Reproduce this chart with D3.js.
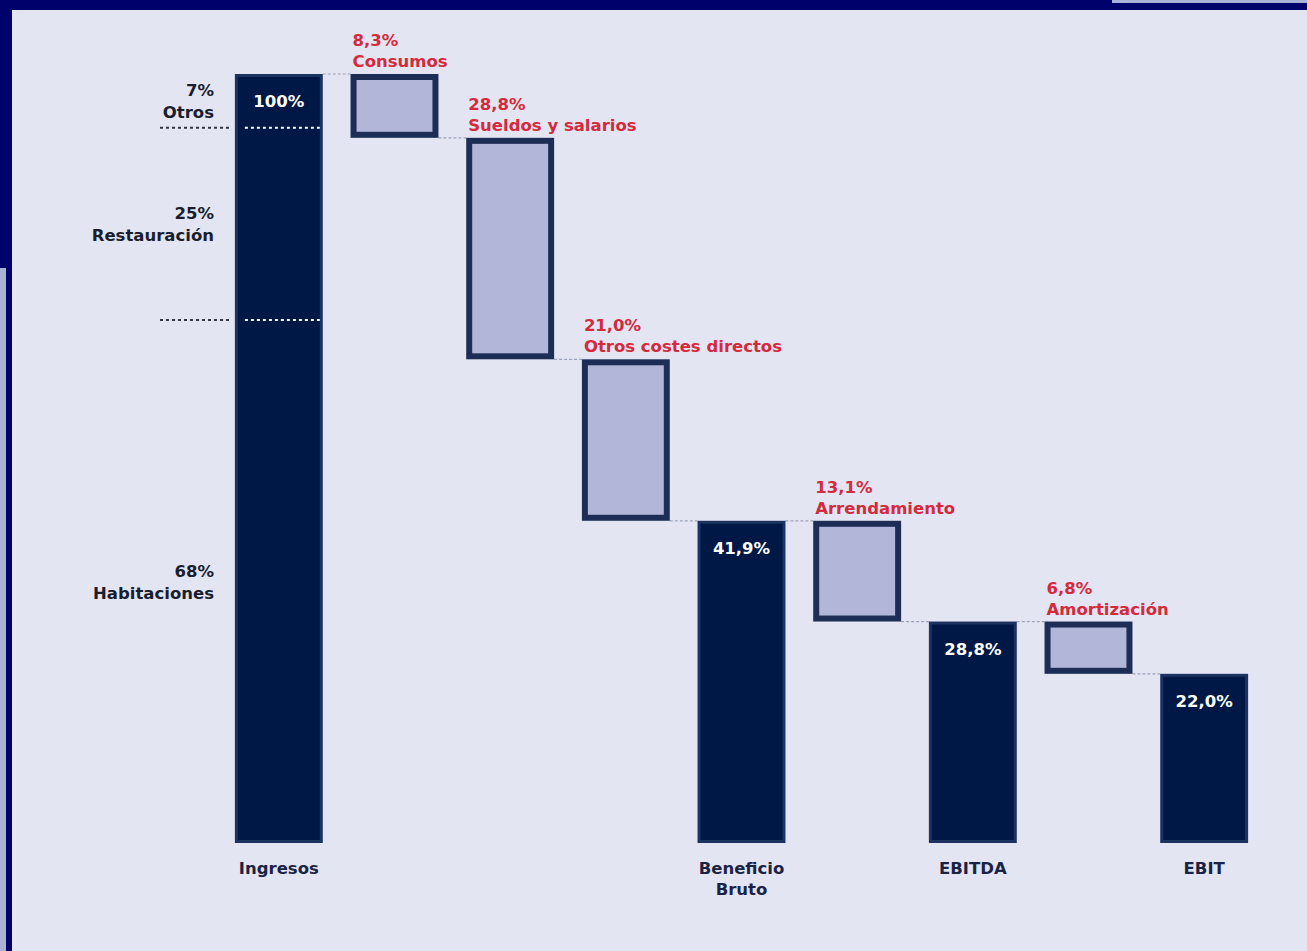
<!DOCTYPE html>
<html>
<head>
<meta charset="utf-8">
<script src="https://cdn.jsdelivr.net/npm/d3@7/dist/d3.min.js"></script>
<style>
  html, body { margin: 0; padding: 0; background: #01016b; }
  svg { display: block; }
  text { font-family: "DejaVu Sans", "Open Sans", sans-serif; font-weight: 700; }
</style>
</head>
<body>
<svg id="chart" width="1307" height="951"></svg>
<script>
// Income statement waterfall, as % of revenue
const categories = ["Ingresos", "Consumos", "Sueldos y salarios", "Otros costes directos",
  "Beneficio Bruto", "Arrendamiento", "EBITDA", "Amortización", "EBIT"];
const values = [100, 8.3, 28.8, 21.0, 41.9, 13.1, 28.8, 6.8, 22.0];
const kinds = ["total", "cost", "cost", "cost", "total", "cost", "total", "cost", "total"];
const axisLabels = ["Ingresos", "", "", "", "Beneficio\nBruto", "", "EBITDA", "", "EBIT"];

// Revenue breakdown shown beside the first bar
const mixLabels = ["Otros", "Restauración", "Habitaciones"];
const mixValues = [7, 25, 68];

const W = 1307, H = 951;
const FS = 16.5;
const svg = d3.select("#chart");

// page frame
svg.append("rect").attr("x", 0).attr("y", 0).attr("width", W).attr("height", H).attr("fill", "#01016b");
svg.append("rect").attr("x", 1112).attr("y", 0).attr("width", W - 1112).attr("height", 3).attr("fill", "#a9b3d5");
svg.append("rect").attr("x", 0).attr("y", 268).attr("width", 6).attr("height", H - 268).attr("fill", "#a9b3d5");
svg.append("rect").attr("x", 12).attr("y", 10).attr("width", W - 12).attr("height", H - 10).attr("fill", "#e3e6f2");

const locale = d3.formatLocale({ decimal: ",", thousands: ".", grouping: [3], currency: ["", " €"] });
const fmt1 = locale.format(".1f");
const pct = v => (Number.isInteger(v) && v >= 100 ? String(v) : fmt1(v)) + "%";

const x = d3.scaleBand().domain(categories).range([221, 1262]).paddingInner(0.24).paddingOuter(0.12);
const y = d3.scaleLinear().domain([0, 100]).range([843, 74]);

// waterfall steps
let level = 0;
const steps = categories.map((c, i) => {
  const v = values[i];
  let lo, hi;
  if (kinds[i] === "total") { lo = 0; hi = v; level = v; }
  else { hi = level; lo = level - v; level = lo; }
  return { cat: c, value: v, kind: kinds[i], lo, hi, end: level };
});

// connectors between consecutive bars
const conn = svg.append("g");
steps.slice(0, -1).forEach((s, i) => {
  const n = steps[i + 1];
  const yy = y(s.end);
  conn.append("line")
    .attr("x1", x(s.cat) + x.bandwidth()).attr("x2", x(n.cat))
    .attr("y1", yy).attr("y2", yy)
    .attr("stroke", "#9ea3b9").attr("stroke-width", 1.2).attr("stroke-dasharray", "3,2");
});

// bars
const bars = svg.append("g");
steps.forEach(s => {
  const sw = s.kind === "total" ? 3 : 6;
  bars.append("rect")
    .attr("x", x(s.cat) + sw / 2)
    .attr("y", y(s.hi) + sw / 2)
    .attr("width", x.bandwidth() - sw)
    .attr("height", y(s.lo) - y(s.hi) - sw)
    .attr("fill", s.kind === "total" ? "#001845" : "#b2b7d9")
    .attr("stroke", s.kind === "total" ? "#1c3260" : "#1d2d56")
    .attr("stroke-width", sw);
});

// value labels inside totals
steps.filter(s => s.kind === "total").forEach(s => {
  svg.append("text")
    .attr("x", x(s.cat) + x.bandwidth() / 2)
    .attr("y", y(s.hi) + 33)
    .attr("text-anchor", "middle")
    .attr("fill", "#ffffff")
    .attr("font-size", FS)
    .text(pct(s.value));
});

// cost labels above cost bars: value on one line, item name below
steps.filter(s => s.kind === "cost").forEach(s => {
  const lx = x(s.cat) + 2;
  svg.append("text").attr("x", lx).attr("y", y(s.hi) - 28)
    .attr("fill", "#d42a3c").attr("font-size", FS).text(pct(s.value));
  svg.append("text").attr("x", lx).attr("y", y(s.hi) - 7)
    .attr("fill", "#d42a3c").attr("font-size", FS).text(s.cat);
});

// category axis
const axis = svg.append("g")
  .attr("transform", `translate(0,${y(0) + 17})`)
  .call(d3.axisBottom(x).tickSize(0).tickFormat(() => ""));
axis.select(".domain").remove();
axis.selectAll(".tick").each(function (d, i) {
  const g = d3.select(this);
  g.select("text").remove();
  const lines = axisLabels[i] ? axisLabels[i].split("\n") : [];
  lines.forEach((ln, k) => g.append("text")
    .attr("x", 0).attr("y", 14 + k * 21)
    .attr("text-anchor", "middle")
    .attr("fill", "#1b2345").attr("font-size", FS).text(ln));
});

// revenue mix segments beside the first bar
const first = steps[0];
const bx0 = x(first.cat), bx1 = x(first.cat) + x.bandwidth();
let segTop = 100;
mixValues.forEach((v, i) => {
  const segBottom = segTop - v;
  if (segBottom > 0) {
    const yy = y(segBottom);
    svg.append("line").attr("x1", 160).attr("x2", bx0 - 3).attr("y1", yy).attr("y2", yy)
      .attr("stroke", "#333344").attr("stroke-width", 2).attr("stroke-dasharray", "3,3");
    svg.append("line").attr("x1", bx0 + 10).attr("x2", bx1 - 3).attr("y1", yy).attr("y2", yy)
      .attr("stroke", "#ffffff").attr("stroke-width", 2).attr("stroke-dasharray", "3,3");
  }
  const mid = (y(segTop) + y(segBottom)) / 2;
  svg.append("text").attr("text-anchor", "end").attr("fill", "#1a1d2e").attr("font-size", FS)
    .attr("x", 214).attr("y", mid - 5).text(v + "%");
  svg.append("text").attr("text-anchor", "end").attr("fill", "#1a1d2e").attr("font-size", FS)
    .attr("x", 214).attr("y", mid + 17).text(mixLabels[i]);
  segTop = segBottom;
});
</script>
</body>
</html>
